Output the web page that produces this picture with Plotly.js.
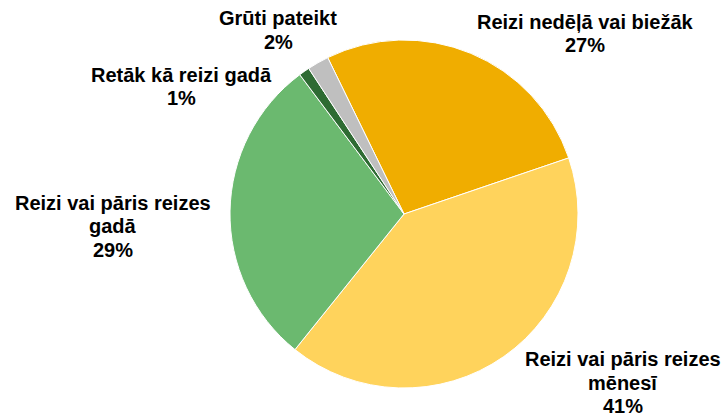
<!DOCTYPE html>
<html>
<head>
<meta charset="utf-8">
<script src="https://cdn.plot.ly/plotly-3.0.1.min.js"></script>
<style>html,body{margin:0;padding:0;background:#fff;}#chart{width:727px;height:417px;}</style>
</head>
<body>
<div id="chart"></div>
<script>
const categories = ["Reizi nedēļā vai biežāk", "Reizi vai pāris reizes mēnesī", "Reizi vai pāris reizes gadā", "Retāk kā reizi gadā", "Grūti pateikt"];
const labelLines = [["Reizi nedēļā vai biežāk"], ["Reizi vai pāris reizes", "mēnesī"], ["Reizi vai pāris reizes", "gadā"], ["Retāk kā reizi gadā"], ["Grūti pateikt"]];
const values = [27, 41, 29, 1, 2];
const colors = ["#F0AD00", "#FFD35C", "#6BB96F", "#2E6B33", "#BFBFBF"];

// label placement: [center x, center y of first line] in the 727x417 frame
const labelPos = [[585, 21.5], [622.5, 359], [113, 203], [181.5, 75], [278, 18.5]];
const lineStep = 23.5;

const W = 727, H = 417;
const annotations = [];
categories.forEach((c, i) => {
  const lines = labelLines[i].concat([values[i] + "%"]);
  lines.forEach((ln, j) => {
    annotations.push({
      text: ln,
      x: labelPos[i][0] / W, y: 1 - (labelPos[i][1] + j * lineStep) / H,
      xref: "paper", yref: "paper", xanchor: "center", yanchor: "middle",
      showarrow: false, align: "center",
      font: {family: "Liberation Sans, Arial, sans-serif", size: 20, color: "#000", weight: "bold"}
    });
  });
});

const cx = 404, cy = 214, r = 174;
Plotly.newPlot("chart", [{
  type: "pie",
  labels: categories,
  values: values,
  sort: false,
  direction: "clockwise",
  rotation: -26,
  textinfo: "none",
  hoverinfo: "label+percent",
  marker: {colors: colors, line: {color: "#ffffff", width: 1}},
  domain: {x: [(cx - r) / W, (cx + r) / W], y: [1 - (cy + r) / H, 1 - (cy - r) / H]}
}], {
  width: W, height: H,
  margin: {l: 0, r: 0, t: 0, b: 0},
  showlegend: false,
  paper_bgcolor: "#fff",
  annotations: annotations
}, {displayModeBar: false, staticPlot: true});
</script>
</body>
</html>
